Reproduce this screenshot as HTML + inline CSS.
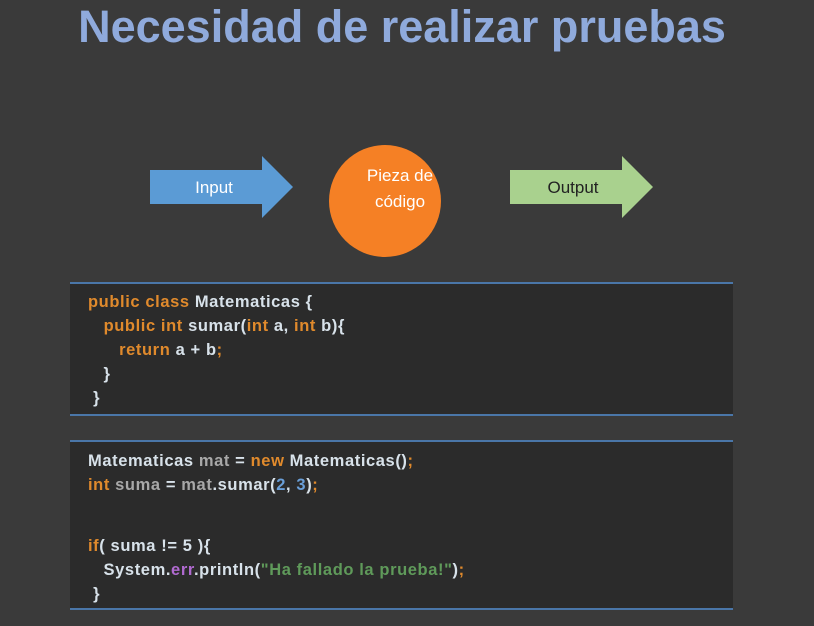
<!DOCTYPE html>
<html><head><meta charset="utf-8"><style>
body{margin:0;width:814px;height:626px;background:#3a3a3a;overflow:hidden;font-family:"Liberation Sans",sans-serif;position:relative}
.t{position:absolute;left:0;width:804px;top:1px;text-align:center;color:#8faadc;font-weight:bold;font-size:45px}
.box{position:absolute;left:70px;width:663px;background:#2b2b2b;border-top:2px solid #4a76a8;border-bottom:2px solid #4a76a8}
.code{position:absolute;left:88px;font-weight:bold;font-size:16.5px;letter-spacing:0.6px;color:#d8e2ea;white-space:pre;line-height:24px}
.k{color:#e08a2c}.n{color:#6a9fd8}.g{color:#a8a8a8}.s{color:#5f9a5a}.p{color:#b06ad0}
</style></head><body>
<div class="t">Necesidad de realizar pruebas</div>
<svg width="814" height="626" style="position:absolute;left:0;top:0">
<polygon points="150,170 262,170 262,156 293,187 262,218 262,204 150,204" fill="#5b9bd5"/>
<polygon points="510,170 622,170 622,156 653,187 622,218 622,204 510,204" fill="#a9d18e"/>
<circle cx="385" cy="201" r="56" fill="#f58025"/>
<text x="214" y="193" fill="#fff" font-size="17" text-anchor="middle" font-family="Liberation Sans">Input</text>
<text x="573" y="193" fill="#222" font-size="17" text-anchor="middle" font-family="Liberation Sans">Output</text>
<text x="400" y="181" fill="#fff" font-size="17" text-anchor="middle" font-family="Liberation Sans">Pieza de</text>
<text x="400" y="207" fill="#fff" font-size="17" text-anchor="middle" font-family="Liberation Sans">código</text>
</svg>
<div class="box" style="top:282px;height:130px"></div>
<div class="code" style="top:290px"><span class="k">public class</span> Matematicas {
   <span class="k">public int</span> sumar(<span class="k">int</span> a, <span class="k">int</span> b){
      <span class="k">return</span> a + b<span class="k">;</span>
   }
 }</div>
<div class="box" style="top:440px;height:166px"></div>
<div class="code" style="top:449px">Matematicas <span class="g">mat</span> = <span class="k">new</span> Matematicas()<span class="k">;</span>
<span class="k">int</span> <span class="g">suma</span> = <span class="g">mat</span>.sumar(<span class="n">2</span>, <span class="n">3</span>)<span class="k">;</span></div>
<div class="code" style="top:534px"><span class="k">if</span>( suma != 5 ){
   System.<span class="p">err</span>.println(<span class="s">"Ha fallado la prueba!"</span>)<span class="k">;</span>
 }</div>
</body></html>
